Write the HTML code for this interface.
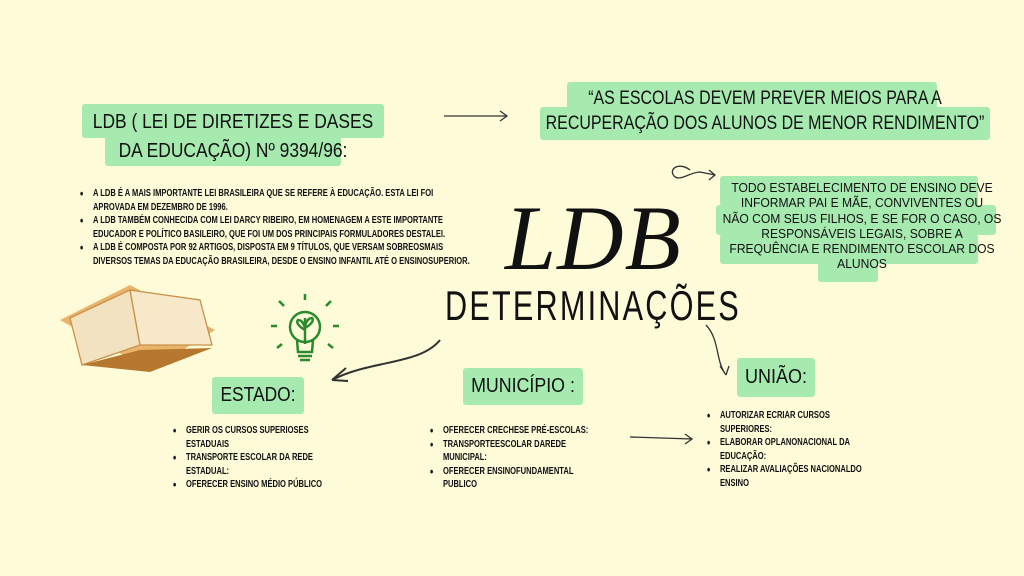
<!DOCTYPE html>
<html><head><meta charset="utf-8"><style>
body{margin:0;width:1024px;height:576px;background:#fdfbd8;position:relative;overflow:hidden;font-family:"Liberation Sans",sans-serif;color:#111}
.g{position:absolute;background:#a6eab0;border-radius:3px}
.t{position:absolute;white-space:nowrap}
.b{position:absolute;font-size:10.5px;line-height:13.5px;font-weight:bold;white-space:nowrap;transform-origin:0 0;transform:scaleX(0.72)}
.b div{padding-left:18px;position:relative}
.b div.s:before{content:"•";position:absolute;left:0;font-size:13px}
</style></head><body>
<div class="g" style="left:82px;top:104px;width:302px;height:34px"></div>
<div class="g" style="left:105px;top:135px;width:236px;height:31px"></div>
<div class="t" style="left:33px;top:108px;width:400px;text-align:center;font-size:20px;line-height:29px;transform:scaleX(0.87)">LDB ( LEI DE DIRETIZES E DASES<br>DA EDUCAÇÃO) Nº 9394/96:</div>
<div class="g" style="left:567px;top:82px;width:370px;height:30px"></div>
<div class="g" style="left:540px;top:107px;width:450px;height:33px"></div>
<div class="t" style="left:465px;top:86px;width:600px;text-align:center;font-size:19px;line-height:25px;transform:scaleX(0.84)">“AS ESCOLAS DEVEM PREVER MEIOS PARA A<br>RECUPERAÇÃO DOS ALUNOS DE MENOR RENDIMENTO”</div>
<div class="g" style="left:720px;top:176px;width:258px;height:30px"></div>
<div class="g" style="left:716px;top:205px;width:280px;height:30px"></div>
<div class="g" style="left:720px;top:234px;width:258px;height:30px"></div>
<div class="g" style="left:818px;top:262px;width:60px;height:20px"></div>
<div class="t" style="left:702px;top:180px;width:320px;text-align:center;font-size:13px;line-height:15.3px;transform:scaleX(0.93)">TODO ESTABELECIMENTO DE ENSINO DEVE<br>INFORMAR PAI E MÃE, CONVIVENTES OU<br>NÃO COM SEUS FILHOS, E SE FOR O CASO, OS<br>RESPONSÁVEIS LEGAIS, SOBRE A<br>FREQUÊNCIA E RENDIMENTO ESCOLAR DOS<br>ALUNOS</div>
<div class="b" style="left:80px;top:187px">
<div class="s">A LDB É A MAIS IMPORTANTE LEI BRASILEIRA QUE SE REFERE À EDUCAÇÃO. ESTA LEI FOI</div><div>APROVADA EM DEZEMBRO DE 1996.</div>
<div class="s">A LDB TAMBÉM CONHECIDA COM LEI DARCY RIBEIRO, EM HOMENAGEM A ESTE IMPORTANTE</div><div>EDUCADOR E POLÍTICO BASILEIRO, QUE FOI UM DOS PRINCIPAIS FORMULADORES DESTALEI.</div>
<div class="s">A LDB É COMPOSTA POR 92 ARTIGOS, DISPOSTA EM 9 TÍTULOS, QUE VERSAM SOBREOSMAIS</div><div>DIVERSOS TEMAS DA EDUCAÇÃO BRASILEIRA, DESDE O ENSINO INFANTIL ATÉ O ENSINOSUPERIOR.</div>
</div>
<div class="t" style="left:505px;top:188px;font-family:'Liberation Serif',serif;font-style:italic;font-size:92px;line-height:100px;letter-spacing:1px">LDB</div>
<div class="t" style="left:445px;top:282px;font-size:42px;line-height:48px;transform-origin:0 0;transform:scaleX(0.73);letter-spacing:3px">DETERMINAÇÕES</div>
<div class="g" style="left:212px;top:377px;width:92px;height:37px"></div>
<div class="t" style="left:202px;top:384px;width:112px;text-align:center;font-size:20px;transform:scaleX(0.87)">ESTADO:</div>
<div class="g" style="left:463px;top:368px;width:120px;height:37px"></div>
<div class="t" style="left:453px;top:375px;width:140px;text-align:center;font-size:20px;transform:scaleX(0.89)">MUNICÍPIO :</div>
<div class="g" style="left:737px;top:358px;width:78px;height:39px"></div>
<div class="t" style="left:727px;top:366px;width:98px;text-align:center;font-size:20px;transform:scaleX(0.9)">UNIÃO:</div>
<div class="b" style="left:173px;top:424px"><div class="s">GERIR OS CURSOS SUPERIOSES</div><div>ESTADUAIS</div><div class="s">TRANSPORTE ESCOLAR DA REDE</div><div>ESTADUAL:</div><div class="s">OFERECER ENSINO MÉDIO PÚBLICO</div></div>
<div class="b" style="left:430px;top:424px"><div class="s">OFERECER CRECHESE PRÉ-ESCOLAS:</div><div class="s">TRANSPORTEESCOLAR DAREDE</div><div>MUNICIPAL:</div><div class="s">OFERECER ENSINOFUNDAMENTAL</div><div>PUBLICO</div></div>
<div class="b" style="left:707px;top:409px"><div class="s">AUTORIZAR ECRIAR CURSOS</div><div>SUPERIORES:</div><div class="s">ELABORAR OPLANONACIONAL DA</div><div>EDUCAÇÃO:</div><div class="s">REALIZAR AVALIAÇÕES NACIONALDO</div><div>ENSINO</div></div>
<svg width="1024" height="576" style="position:absolute;left:0;top:0" fill="none" stroke="#333" stroke-width="1.3">
<path d="M444 116 L507 116 M500 111 L507 116 L500 121"/>
<path d="M440 340 C420 365 370 360 332 380 M332 380 L346 368 M332 380 L348 381" stroke-width="2"/>
<path d="M706 325 C720 340 715 360 726 375 M726 375 L720 366 M726 375 L729 366"/>
<path d="M630 437 L692 439 M685 434 L692 439 L685 444"/>
<path d="M690 170 C680 162 668 168 674 176 C680 182 690 172 700 172 L715 175 M709 170 L715 175 L709 180"/>
<path d="M60 320 L130 285 L215 330 L150 370 Z" fill="#e9b46a" stroke="none"/>
<path d="M70 318 L130 290 L140 345 L82 365 Z" fill="#f3e2c0" stroke="#c8914a"/>
<path d="M130 290 L200 300 L212 345 L140 345 Z" fill="#f6e8c8" stroke="#c8914a"/>
<path d="M82 365 L140 350 L212 348 L150 372 Z" fill="#b5782e" stroke="none"/>
<g stroke="#2c8a2c" stroke-width="2.5">
<circle cx="305" cy="327" r="15"/>
<path d="M297 340 L298 352 L312 352 L313 340 M298 356 L312 356 M300 360 L310 360"/>
<path d="M305 344 L305 318 M305 330 C298 326 296 322 298 320 C302 320 305 325 305 330 M305 328 C312 324 314 320 312 318 C308 318 305 323 305 328"/>
<path d="M305 300 L305 294 M284 306 L279 301 M326 306 L331 301 M277 326 L271 326 M333 326 L339 326 M282 344 L277 348 M328 344 L333 348"/>
</g>
</svg>
</body></html>
